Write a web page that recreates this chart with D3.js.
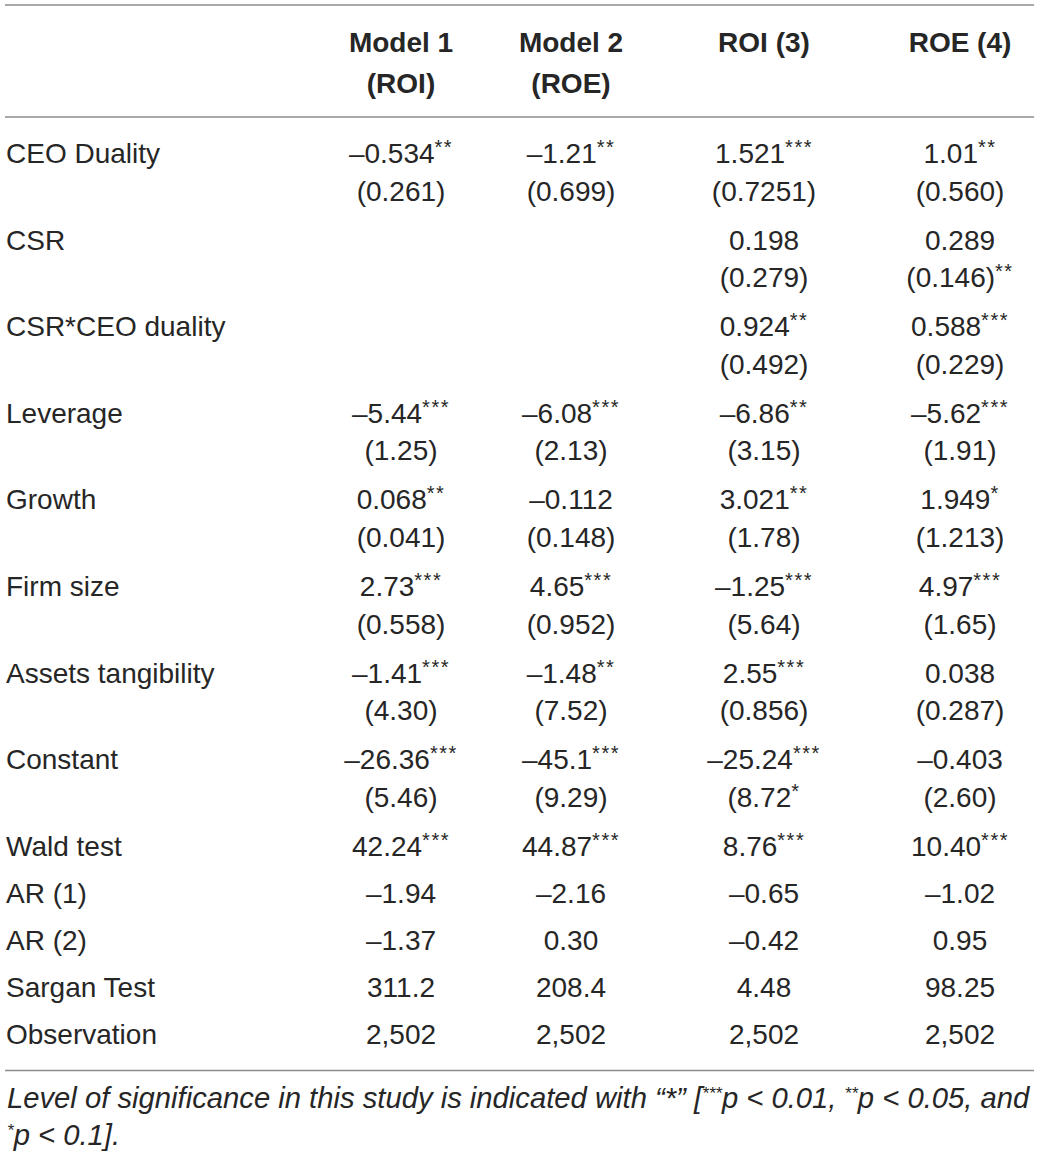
<!DOCTYPE html>
<html lang="en">
<head>
<meta charset="utf-8">
<title>CEO duality, CSR and firm performance</title>
<script src="https://d3js.org/d3.v7.min.js"></script>
<style>
  body { margin: 0; background: #fff; font-family: "Liberation Sans", Arial, Helvetica, sans-serif; }
  #table { width: 1041px; height: 1157px; }
</style>
</head>
<body>
<div id="table"></div>
<script>
// ---- data ----
var headers = [["Model 1", "(ROI)"], ["Model 2", "(ROE)"], ["ROI (3)"], ["ROE (4)"]];
var columns = ["m1", "m2", "roi3", "roe4"];

var variables = ["CEO Duality", "CSR", "CSR*CEO duality", "Leverage", "Growth",
                 "Firm size", "Assets tangibility", "Constant"];

// coefficient / standard error per column (null = empty cell)
var m1Coef   = ["–0.534**", null, null, "–5.44***", "0.068**", "2.73***", "–1.41***", "–26.36***"];
var m1SE     = ["(0.261)", null, null, "(1.25)", "(0.041)", "(0.558)", "(4.30)", "(5.46)"];
var m2Coef   = ["–1.21**", null, null, "–6.08***", "–0.112", "4.65***", "–1.48**", "–45.1***"];
var m2SE     = ["(0.699)", null, null, "(2.13)", "(0.148)", "(0.952)", "(7.52)", "(9.29)"];
var roi3Coef = ["1.521***", "0.198", "0.924**", "–6.86**", "3.021**", "–1.25***", "2.55***", "–25.24***"];
var roi3SE   = ["(0.7251)", "(0.279)", "(0.492)", "(3.15)", "(1.78)", "(5.64)", "(0.856)", "(8.72*"];
var roe4Coef = ["1.01**", "0.289", "0.588***", "–5.62***", "1.949*", "4.97***", "0.038", "–0.403"];
var roe4SE   = ["(0.560)", "(0.146)**", "(0.229)", "(1.91)", "(1.213)", "(1.65)", "(0.287)", "(2.60)"];

var statNames = ["Wald test", "AR (1)", "AR (2)", "Sargan Test", "Observation"];
var m1Stat   = ["42.24***", "–1.94", "–1.37", "311.2", "2,502"];
var m2Stat   = ["44.87***", "–2.16", "0.30", "208.4", "2,502"];
var roi3Stat = ["8.76***", "–0.65", "–0.42", "4.48", "2,502"];
var roe4Stat = ["10.40***", "–1.02", "0.95", "98.25", "2,502"];

var footnote = [
  [["Level of significance in this study is indicated with “*” [", false], ["***", true], ["p < 0.01, ", false], ["**", true], ["p < 0.05, and", false]],
  [["*", true], ["p < 0.1].", false]]
];

// ---- layout ----
var W = 1041, H = 1157;
var fontSize = 28;
var ink = "#262626";

var svg = d3.select("#table").append("svg")
  .attr("width", W).attr("height", H);

var x = d3.scaleOrdinal().domain(columns).range([401, 571, 764, 960]);

// build rows: label + per-column lines
var coefCols = [m1Coef, m2Coef, roi3Coef, roe4Coef];
var seCols = [m1SE, m2SE, roi3SE, roe4SE];
var statCols = [m1Stat, m2Stat, roi3Stat, roe4Stat];

var rows = [];
variables.forEach(function(v, i) {
  rows.push({label: v, lines: 2, cells: columns.map(function(c, j) {
    return [coefCols[j][i], seCols[j][i]];
  })});
});
statNames.forEach(function(v, i) {
  rows.push({label: v, lines: 1, cells: columns.map(function(c, j) {
    return [statCols[j][i]];
  })});
});

var y0 = 163, linePitch = 37.6;
var yPos = 0;
rows.forEach(function(r) {
  r.y = y0 + yPos;
  yPos += r.lines == 2 ? 86.6 : 47;
});

// rules
var rules = [5, 117, 1070.5];
svg.selectAll("line.rule")
  .data(rules)
  .enter()
  .append("line")
  .attr("class", "rule")
  .attr("x1", 5).attr("x2", 1034)
  .attr("y1", function(d) { return d; })
  .attr("y2", function(d) { return d; })
  .attr("stroke", "#8c8c8c")
  .attr("stroke-width", 1.6);

// header
var head = svg.append("g").attr("font-weight", "bold").attr("fill", ink)
  .attr("font-size", fontSize + "px").attr("text-anchor", "middle");
headers.forEach(function(h, j) {
  h.forEach(function(t, k) {
    head.append("text")
      .attr("x", x(columns[j]))
      .attr("y", 52 + k * 41)
      .text(t);
  });
});

// split "value***" into value + superscript stars
function addValue(sel, s) {
  var m = s.match(/^(.*?)(\**)$/);
  sel.append("tspan").text(m[1]);
  if (m[2]) {
    sel.append("tspan")
      .attr("font-size", "20px")
      .attr("letter-spacing", "1.5px")
      .attr("dy", -9)
      .text(m[2]);
  }
}

var body = svg.append("g").attr("fill", ink).attr("font-size", fontSize + "px");

body.selectAll("text.label")
  .data(rows)
  .enter()
  .append("text")
  .attr("class", "label")
  .attr("x", 6)
  .attr("y", function(d) { return d.y; })
  .text(function(d) { return d.label; });

rows.forEach(function(r) {
  r.cells.forEach(function(cell, j) {
    cell.forEach(function(v, k) {
      if (!v) return;
      var t = body.append("text")
        .attr("x", x(columns[j]))
        .attr("y", r.y + k * linePitch)
        .attr("text-anchor", "middle");
      addValue(t, v);
    });
  });
});

// footnote
var foot = svg.append("g").attr("fill", ink).attr("font-style", "italic");
var footSize = 26;
footnote.forEach(function(line, i) {
  var t = foot.append("text")
    .attr("x", 7)
    .attr("y", 1108 + i * 37)
    .attr("font-size", footSize + "px");
  line.forEach(function(part, k) {
    var sp = t.append("tspan").text(part[0]);
    if (part[1]) sp.attr("font-size", "17px").attr("dy", -9);
    else if (k > 0 && line[k - 1][1]) sp.attr("dy", 9);
  });
});
// fit first footnote line to the rule width
var first = foot.select("text").node();
var len = first.getComputedTextLength();
var fitted = footSize * 1027 / len;
foot.selectAll("text").attr("font-size", fitted + "px");
</script>
</body>
</html>
